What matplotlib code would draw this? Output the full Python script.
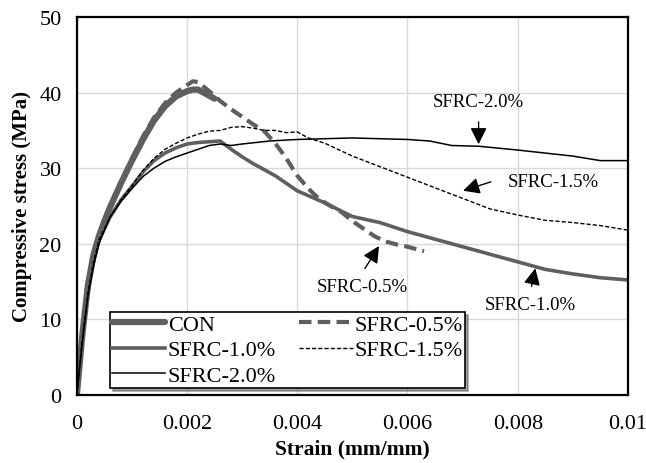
import matplotlib
matplotlib.use('Agg')
import matplotlib.pyplot as plt
from matplotlib.ticker import FuncFormatter, MultipleLocator

plt.rcParams['font.family'] = ['Liberation Serif', 'DejaVu Serif']

# strain (mm/mm) and stress (MPa)
con_x = [0, 0.0001, 0.0002, 0.0003, 0.0004, 0.0005, 0.0006, 0.0008, 0.001, 0.0012,
         0.0014, 0.0016, 0.0018, 0.002, 0.0021, 0.0022, 0.0023, 0.0024, 0.0025]
con_y = [0, 8, 14.5, 18.5, 21, 23.0, 24.8, 28.0, 31.0, 33.8,
         36.3, 38.2, 39.5, 40.2, 40.4, 40.4, 40.0, 39.6, 39.2]

sf05_x = [0, 0.0001, 0.0002, 0.0003, 0.0004, 0.0005, 0.0006, 0.0008, 0.001, 0.0012,
          0.0014, 0.0016, 0.0018, 0.002, 0.0021, 0.0022, 0.0024, 0.0026, 0.0028, 0.003,
          0.0032, 0.0034, 0.0036, 0.0038, 0.004, 0.0042, 0.0044, 0.0046, 0.0048, 0.005,
          0.0052, 0.0054, 0.0056, 0.0058, 0.006, 0.0062, 0.0063]
sf05_y = [0, 8, 14.5, 18.5, 21, 23.0, 24.8, 28.2, 31.3, 34.2,
          36.7, 38.6, 40.0, 41.0, 41.5, 41.4, 40.2, 38.9, 37.8, 36.8,
          35.8, 34.9, 33.3, 31.3, 29.0, 27.3, 25.9, 25.0, 24.2, 23.0,
          22.0, 21.0, 20.3, 19.9, 19.6, 19.2, 19.0]

sf10_x = [0, 0.0001, 0.0002, 0.0003, 0.0004, 0.0006, 0.0008, 0.001, 0.0012, 0.0014,
          0.0016, 0.0018, 0.002, 0.0022, 0.0024, 0.0026, 0.0028, 0.003, 0.0032, 0.0034,
          0.0036, 0.0038, 0.004, 0.0045, 0.005, 0.0055, 0.006, 0.0065, 0.007, 0.0075,
          0.008, 0.0085, 0.009, 0.0095, 0.01]
sf10_y = [0, 7.5, 13.5, 17.5, 20.5, 23.5, 25.8, 27.6, 29.5, 31.0,
          32.0, 32.7, 33.2, 33.4, 33.5, 33.6, 32.5, 31.5, 30.6, 29.8,
          29.0, 28.0, 27.0, 25.4, 23.6, 22.8, 21.6, 20.6, 19.6, 18.6,
          17.6, 16.6, 16.0, 15.5, 15.2]

sf15_x = [0, 0.0001, 0.0002, 0.0003, 0.0004, 0.0006, 0.0008, 0.001, 0.0012, 0.0014,
          0.0016, 0.0018, 0.002, 0.0022, 0.0024, 0.0026, 0.0028, 0.003, 0.0032, 0.0034,
          0.0036, 0.0038, 0.004, 0.0042, 0.0045, 0.005, 0.0055, 0.006, 0.0065, 0.007,
          0.0075, 0.008, 0.0085, 0.009, 0.0095, 0.01]
sf15_y = [0, 7.5, 13.5, 17.5, 20.5, 23.5, 25.8, 27.7, 29.7, 31.3,
          32.5, 33.3, 34.0, 34.5, 34.9, 35.0, 35.4, 35.5, 35.3, 35.0,
          35.0, 34.7, 34.8, 34.0, 33.3, 31.6, 30.2, 28.8, 27.4, 26.0,
          24.6, 23.8, 23.1, 22.8, 22.4, 21.8]

sf20_x = [0, 0.0001, 0.0002, 0.0003, 0.0004, 0.0006, 0.0008, 0.001, 0.0012, 0.0014,
          0.0016, 0.0018, 0.002, 0.0022, 0.0024, 0.0026, 0.0028, 0.003, 0.0035, 0.004,
          0.0045, 0.005, 0.0055, 0.006, 0.0064, 0.0068, 0.0073, 0.008, 0.0085, 0.009,
          0.0095, 0.01]
sf20_y = [0, 7, 13, 17, 20, 23.5, 25.6, 27.3, 28.9, 30.0,
          30.9, 31.5, 32.0, 32.5, 33.0, 33.2, 33.0, 33.2, 33.6, 33.8,
          33.9, 34.0, 33.9, 33.8, 33.6, 33.0, 32.9, 32.4, 32.0, 31.6,
          31.0, 31.0]

gray = '#5f5f5f'

fig = plt.figure(figsize=(6.46, 4.64), dpi=100)
ax = fig.add_axes([0.119, 0.147, 0.853, 0.814])

l_con, = ax.plot(con_x, con_y, color=gray, lw=4.5, label='CON', solid_capstyle='round')
l_05, = ax.plot(sf05_x, sf05_y, color=gray, lw=3, ls=(0, (3, 1.5)), label='SFRC-0.5%')
l_10, = ax.plot(sf10_x, sf10_y, color=gray, lw=2.6, label='SFRC-1.0%')
l_15, = ax.plot(sf15_x, sf15_y, color='black', lw=1, ls=(0, (3, 1.5)), label='SFRC-1.5%')
l_20, = ax.plot(sf20_x, sf20_y, color='black', lw=1.1, label='SFRC-2.0%')


def fmt_x(v, pos):
    if abs(v) < 1e-12:
        return '0'
    if abs(v - 0.01) < 1e-12:
        return '0.01'
    return f'{v:.3f}'


ax.set_xlim(0, 0.01)
ax.set_ylim(0, 50)
ax.xaxis.set_major_locator(MultipleLocator(0.002))
ax.yaxis.set_major_locator(MultipleLocator(10))
ax.xaxis.set_major_formatter(FuncFormatter(fmt_x))
ax.grid(color='#d9d9d9', lw=1)
ax.set_axisbelow(True)
ax.tick_params(length=0, labelsize=16)
ax.tick_params(axis='x', pad=14)
ax.tick_params(axis='y', pad=11)
for s in ax.spines.values():
    s.set_linewidth(1.6)
    s.set_color('black')

ax.set_xlabel('Strain (mm/mm)', fontsize=15.5, fontweight='bold', labelpad=4)
ax.set_ylabel('Compressive stress (MPa)', fontsize=15, fontweight='bold', labelpad=5)

# callouts
arrow = dict(arrowstyle='-|>,head_length=0.5,head_width=0.25', color='black', lw=1,
             mutation_scale=20)
ax.text(0.00729, 38.8, 'SFRC-2.0%', fontsize=13.5, ha='center', va='center')
ax.annotate('', xy=(0.00729, 32.8), xytext=(0.00729, 36.5), arrowprops=arrow)
ax.text(0.00865, 28.3, 'SFRC-1.5%', fontsize=13.5, ha='center', va='center')
ax.annotate('', xy=(0.00696, 26.9), xytext=(0.00756, 28.3), arrowprops=arrow)
ax.text(0.00518, 14.3, 'SFRC-0.5%', fontsize=13.5, ha='center', va='center')
ax.annotate('', xy=(0.00551, 20.0), xytext=(0.0052, 16.4), arrowprops=arrow)
ax.text(0.00822, 11.9, 'SFRC-1.0%', fontsize=13.5, ha='center', va='center')
ax.annotate('', xy=(0.00833, 17.1), xytext=(0.00824, 14.0), arrowprops=arrow)

leg = ax.legend(handles=[l_con, l_10, l_20, l_05, l_15], ncol=2, loc='lower left',
                bbox_to_anchor=(0.06, 0.018), borderaxespad=0, fontsize=16, frameon=True,
                fancybox=False, shadow=True, edgecolor='black', framealpha=1,
                handlelength=2.4, handletextpad=0.1, columnspacing=1.05,
                labelspacing=0.22, borderpad=0.1)
leg.get_frame().set_linewidth(1.2)

fig.savefig('out.png', dpi=100)
